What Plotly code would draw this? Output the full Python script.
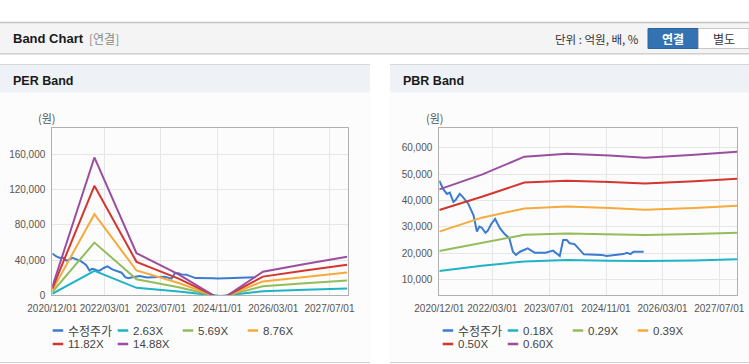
import plotly.graph_objects as go

W, H = 749, 364

# ---------------- data ----------------
price_dates = ["2020-12-01","2021-01-05","2021-02-05","2021-03-01","2021-04-01","2021-04-20","2021-05-25",
               "2021-06-20","2021-08-05","2021-09-20","2021-10-20","2021-11-10","2021-12-01","2022-01-01",
               "2022-01-20","2022-02-20","2022-03-25","2022-05-05","2022-06-15","2022-07-25","2022-08-25",
               "2022-09-20","2022-10-25","2022-12-30","2023-03-01","2023-06-01","2023-08-05","2023-10-01",
               "2023-10-30","2023-11-30","2023-12-25","2024-02-05","2024-04-25","2024-09-25","2024-11-05",
               "2025-01-15","2025-03-29","2025-04-30","2025-05-30","2025-06-25","2025-09-20"]
price_values = [47500,44200,42500,43000,39500,40200,42500,41400,38900,34500,28200,30100,29700,27800,
                28500,31100,33000,29500,27300,25700,20600,19400,20600,21900,20200,20200,21000,19000,
                25000,25000,23800,23500,19600,19400,19000,19400,19700,20200,19700,20600,20600]

per_dates = ["2020-12-01","2021-12-01","2022-12-01","2023-12-01","2024-12-01","2025-12-01","2026-12-01","2027-12-01"]
per_263 = [1710, 27720, 8470, 4210, -920, 4730, 6290, 7760]
per_569 = [3700, 59970, 18320, 9100, -1990, 10240, 13600, 16790]
per_876 = [5690, 92330, 28210, 14020, -3070, 15770, 20940, 25840]
per_1182 = [7680, 124580, 38060, 18910, -4140, 21280, 28250, 34870]
per_1488 = [9670, 156840, 47910, 23810, -5210, 26780, 35560, 43900]

pbr_dates = ["2020-12-01","2021-12-01","2022-12-01","2023-12-01","2024-12-01","2025-10-01","2026-12-01","2027-12-01"]
pbr_018 = [13300, 15300, 16900, 17500, 17200, 17100, 17300, 17700]
pbr_029 = [20900, 24000, 27000, 27500, 27100, 26900, 27300, 27800]
pbr_039 = [28200, 33500, 37000, 37700, 37200, 36500, 37200, 38000]
pbr_050 = [36400, 41400, 46800, 47500, 47000, 46400, 47300, 48200]
pbr_060 = [44200, 49800, 56600, 57700, 57000, 56200, 57300, 58500]

per_names = ["수정주가", "2.63X", "5.69X", "8.76X", "11.82X", "14.88X"]
pbr_names = ["수정주가", "0.18X", "0.29X", "0.39X", "0.50X", "0.60X"]
colors = ["#3b7bd0", "#1fb3c6", "#93bd5a", "#f5aa3c", "#d4352f", "#9a4f9e"]

x_tick_vals = ["2020-12-01","2022-03-01","2023-07-01","2024-11-01","2026-03-01","2027-07-01"]
x_tick_text = ["2020/12/01","2022/03/01","2023/07/01","2024/11/01","2026/03/01","2027/07/01"]
per_y_ticks = [0, 40000, 80000, 120000, 160000]
pbr_y_ticks = [10000, 20000, 30000, 40000, 50000, 60000]

# ---------------- helpers ----------------
def px(x):
    return x / W

def py(y):
    return 1 - y / H

FONT = "Liberation Sans, Arial, Noto Sans CJK KR, sans-serif"
KFONT = "Noto Sans CJK KR, Liberation Sans, sans-serif"

fig = go.Figure()

per_series = [price_values, per_263, per_569, per_876, per_1182, per_1488]
pbr_series = [price_values, pbr_018, pbr_029, pbr_039, pbr_050, pbr_060]

for i, (name, vals) in enumerate(zip(per_names, per_series)):
    xs = price_dates if i == 0 else per_dates
    fig.add_trace(go.Scatter(x=xs, y=vals, name=name, mode="lines",
                             line=dict(color=colors[i], width=2),
                             xaxis="x", yaxis="y", showlegend=False))
for i, (name, vals) in enumerate(zip(pbr_names, pbr_series)):
    xs = price_dates if i == 0 else pbr_dates
    fig.add_trace(go.Scatter(x=xs, y=vals, name=name, mode="lines",
                             line=dict(color=colors[i], width=2),
                             xaxis="x2", yaxis="y2", showlegend=False))

axis_common = dict(showgrid=True, gridcolor="#e6e6e6", gridwidth=1, showline=True,
                   linecolor="#b0b0b0", linewidth=1, mirror=True, zeroline=False, automargin=False,
                   ticks="outside", tickcolor="rgba(0,0,0,0)", ticklen=4, tickangle=0,
                   tickfont=dict(family=FONT, size=10, color="#555"))

xl = [52.3, 347.7]
xr = [439.3, 737.3]
yd = [py(295.3), py(128.3)]

fig.update_layout(
    xaxis=dict(domain=[px(xl[0]), px(xl[1])], anchor="y", type="date",
               range=["2020-12-01", "2027-12-06"], tickvals=x_tick_vals, ticktext=x_tick_text, **axis_common),
    yaxis=dict(domain=yd, anchor="x", range=[0, 190000], tickvals=per_y_ticks, tickformat=",d", **axis_common),
    xaxis2=dict(domain=[px(xr[0]), px(xr[1])], anchor="y2", type="date",
                range=["2020-12-01", "2027-12-03"], tickvals=x_tick_vals, ticktext=x_tick_text, **axis_common),
    yaxis2=dict(domain=yd, anchor="x2", range=[4090, 67350], tickvals=pbr_y_ticks, tickformat=",d", **axis_common),
)

shapes = []
annotations = []

def rect(x0, y0, x1, y1, fill, line=None, lw=0, layer="below"):
    shapes.append(dict(type="rect", xref="paper", yref="paper", x0=px(x0), x1=px(x1), y0=py(y1), y1=py(y0),
                       fillcolor=fill, line=dict(color=line or fill, width=lw), layer=layer))

def hline(x0, x1, y, color, width=1, layer="below"):
    shapes.append(dict(type="line", xref="paper", yref="paper", x0=px(x0), x1=px(x1), y0=py(y), y1=py(y),
                       line=dict(color=color, width=width), layer=layer))

def text(x, y, s, size=12, color="#222", family=FONT, xanchor="left", bold=False):
    if bold:
        s = "<b>" + s + "</b>"
    annotations.append(dict(x=px(x), y=py(y), xref="paper", yref="paper", text=s, showarrow=False,
                            xanchor=xanchor, yanchor="middle", font=dict(size=size, color=color, family=family)))

# top header band
rect(0, 23, 749, 53, "#f4f4f4")
hline(0, 749, 22.5, "#c4c4c4", 1.5)
hline(0, 749, 53.5, "#cfcfcf", 1)
hline(0, 749, 54.5, "#e6e6e6", 1)
text(10.5, 39, "Band Chart", 13, "#1a1a1a", bold=True)
text(87, 39, "[연결]", 12, "#8a8a8a", KFONT)
text(641, 39, "단위 : 억원, 배, %", 11.5, "#333", KFONT, xanchor="right")
rect(648, 28.5, 698.5, 48.5, "#3473b3", "#2d65a0", 1)
rect(698.5, 28.5, 749, 48.5, "#ffffff", "#c6c6c6", 1)
text(673, 38.5, "연결", 12, "#ffffff", KFONT, xanchor="center", bold=True)
text(723.5, 38.5, "별도", 12, "#333333", KFONT, xanchor="center")

# panels
for (x0, x1, title) in [(0, 370, "PER Band"), (390, 749, "PBR Band")]:
    rect(x0, 92.5, x1, 362, "#fcfcfc")
    rect(x0, 64.5, x1, 92.5, "#eef1f6")
    hline(x0, x1, 64.5, "#d6d6d6", 1)
    hline(x0, x1, 362.5, "#d0d0d0", 1)
    text(x0 + 11, 80.5, title, 12.5, "#1a1a1a", bold=True)

# y axis unit labels
text(46.5, 118, "(원)", 11, "#555", KFONT, xanchor="center")
text(435, 118, "(원)", 11, "#555", KFONT, xanchor="center")

# custom legends
for x_start, names in [(52.7, per_names), (442.7, pbr_names)]:
    for i, name in enumerate(names):
        col, row = i % 4, i // 4
        lx = x_start + col * 65
        ly = 330.5 + row * 13.5
        hline(lx, lx + 10.5, ly, colors[i], 2.5, layer="above")
        fam = KFONT if i == 0 else FONT
        text(lx + 13, ly, name, 12 if i == 0 else 11.5, "#444", fam)

fig.update_layout(shapes=shapes, annotations=annotations,
                  width=W, height=H, margin=dict(l=0, r=0, t=0, b=0, autoexpand=False),
                  paper_bgcolor="#ffffff", plot_bgcolor="#ffffff", showlegend=False)

fig.write_html("out.html", config={"displayModeBar": False},
               post_script="document.body.style.margin='0';document.body.style.overflow='hidden';")
